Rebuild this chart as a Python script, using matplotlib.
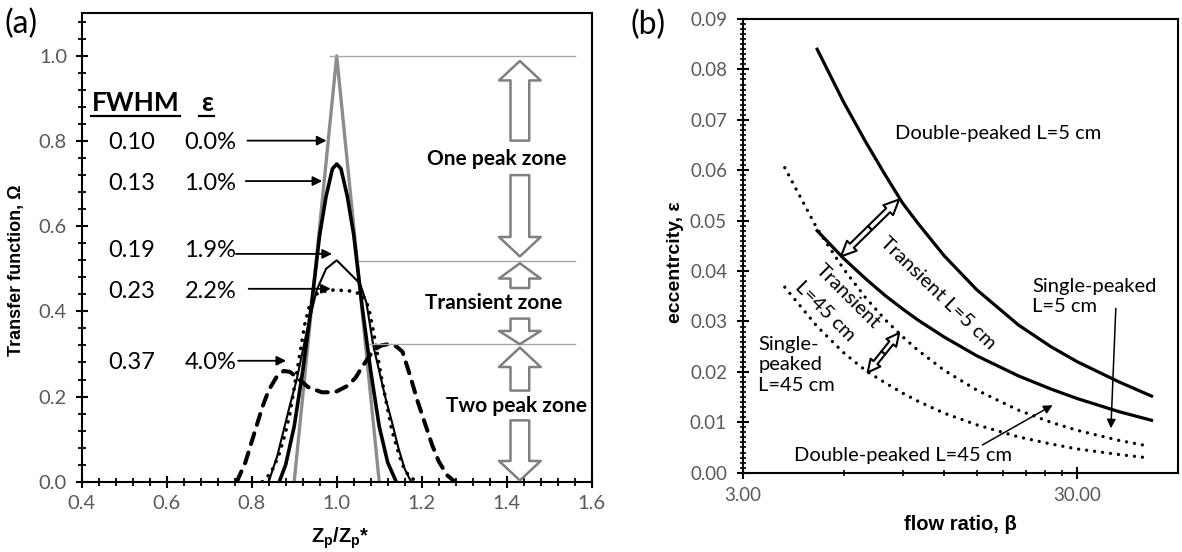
import numpy as np
import matplotlib.pyplot as plt
from matplotlib.patches import FancyArrowPatch
from matplotlib.ticker import MultipleLocator, FixedLocator, FormatStrFormatter, NullFormatter

plt.rcParams['font.family'] = ['Lato', 'DejaVu Sans']
plt.rcParams['mathtext.fontset'] = 'custom'
plt.rcParams['mathtext.bf'] = 'Liberation Sans:bold'
plt.rcParams['mathtext.rm'] = 'Liberation Sans'

# ---------------- panel (a): transfer function vs Zp/Zp* ----------------
tri_x = [0.90, 1.00, 1.10]
tri_y = [0.0, 1.0, 0.0]

e10_x = [0.865, 0.88, 0.90, 0.92, 0.94, 0.96, 0.975, 0.99, 1.00,
         1.01, 1.025, 1.04, 1.06, 1.08, 1.10, 1.12, 1.14]
e10_y = [0.0, 0.04, 0.13, 0.26, 0.41, 0.58, 0.67, 0.735, 0.746,
         0.735, 0.67, 0.58, 0.41, 0.26, 0.13, 0.045, 0.0]

e19_x = [0.84, 0.86, 0.875, 0.89, 0.906, 0.93, 0.953, 0.975, 1.00, 1.02,
         1.04, 1.055, 1.07, 1.086, 1.10, 1.114, 1.13, 1.145, 1.16, 1.175]
e19_y = [0.0, 0.06, 0.12, 0.18, 0.24, 0.355, 0.45, 0.50, 0.52, 0.50,
         0.48, 0.465, 0.42, 0.32, 0.26, 0.20, 0.14, 0.08, 0.03, 0.0]

e22_x = [0.825, 0.845, 0.863, 0.878, 0.89, 0.91, 0.925, 0.935, 0.95, 0.98,
         1.00, 1.03, 1.06, 1.075, 1.086, 1.106, 1.13, 1.153, 1.17, 1.19]
e22_y = [0.0, 0.02, 0.06, 0.11, 0.16, 0.28, 0.37, 0.41, 0.44, 0.45,
         0.45, 0.448, 0.44, 0.41, 0.355, 0.24, 0.12, 0.043, 0.012, 0.0]

e40_x = [0.765, 0.785, 0.808, 0.825, 0.84, 0.858, 0.875, 0.89, 0.906, 0.933,
         0.965, 0.996, 1.027, 1.045, 1.06, 1.086, 1.105, 1.122, 1.14, 1.155,
         1.176, 1.19, 1.208, 1.225, 1.24, 1.26, 1.278]
e40_y = [0.0, 0.045, 0.12, 0.175, 0.215, 0.245, 0.26, 0.258, 0.245, 0.222,
         0.21, 0.21, 0.226, 0.245, 0.27, 0.308, 0.32, 0.323, 0.318, 0.305,
         0.238, 0.19, 0.136, 0.085, 0.048, 0.015, 0.0]

fwhm_labels = ['0.10', '0.13', '0.19', '0.23', '0.37']
eps_labels = ['0.0%', '1.0%', '1.9%', '2.2%', '4.0%']
label_y = [0.797, 0.70, 0.544, 0.447, 0.28]
arrow_from = [(0.790, 0.801), (0.786, 0.706), (0.763, 0.535), (0.793, 0.453), (0.768, 0.284)]
arrow_to = [(0.976, 0.801), (0.966, 0.706), (0.989, 0.535), (0.986, 0.453), (0.881, 0.284)]

zone_lines = [(0.985, 1.0), (1.052, 0.519), (1.075, 0.323)]
zone_texts = [('One peak zone', 1.377, 0.758), ('Transient zone', 1.37, 0.42),
              ('Two peak zone', 1.422, 0.177)]
# block arrows: (start, tip, head length in pt)
zone_arrows = [(0.801, 0.988, 14), (0.72, 0.529, 14), (0.455, 0.513, 11),
               (0.383, 0.323, 9.5), (0.214, 0.315, 14), (0.144, 0.003, 14)]

# ---------------- panel (b): eccentricity vs flow ratio ----------------
dp5_beta = [5, 6, 7, 8, 9, 10, 12, 15, 20, 25, 30, 40, 50]
dp5_eps = [0.084, 0.0735, 0.0655, 0.059, 0.0535, 0.0495, 0.043, 0.0363,
           0.0293, 0.025, 0.022, 0.018, 0.0152]
tr5_beta = [5, 6, 7, 8, 9, 10, 12, 15, 20, 25, 30, 40, 50]
tr5_eps = [0.048, 0.0425, 0.0384, 0.0351, 0.0325, 0.0303, 0.0269, 0.0232,
           0.0192, 0.0166, 0.0147, 0.0121, 0.0104]
tr45_beta = [4, 5, 6, 7, 8, 9, 10, 12, 15, 20, 25, 30, 40, 48]
tr45_eps = [0.0605, 0.0484, 0.0404, 0.0346, 0.0303, 0.027, 0.0243, 0.0203,
            0.0164, 0.0124, 0.01, 0.0084, 0.0064, 0.0054]
dp45_beta = [4, 5, 6, 7, 8, 9, 10, 12, 15, 20, 25, 30, 40, 48]
dp45_eps = [0.0368, 0.029, 0.0238, 0.0202, 0.0178, 0.0158, 0.0142, 0.0118,
            0.0095, 0.0071, 0.0057, 0.0047, 0.0036, 0.003]

fig = plt.figure(figsize=(11.82, 5.52), dpi=100)
W, H = 1182.0, 552.0

ax1 = fig.add_axes([81.7 / W, 1 - 481.7 / H, 510 / W, 468.4 / H])
ax1.plot(tri_x, tri_y, color='#8c8c8c', lw=2.4)
ax1.plot(e10_x, e10_y, color='black', lw=2.6)
ax1.plot(e19_x, e19_y, color='black', lw=1.5)
ax1.plot(e22_x, e22_y, color='black', lw=2.7, ls=(0, (0.01, 2.2)), dash_capstyle='round')
ax1.plot(e40_x, e40_y, color='black', lw=2.9, ls=(0, (2.8, 2.2)), dash_capstyle='round')

for xs, yv in zone_lines:
    ax1.plot([xs, 1.561], [yv, yv], color='#a6a6a6', lw=1.0)

for y0, y1, hl in zone_arrows:
    ax1.add_patch(FancyArrowPatch((1.431, y0), (1.431, y1),
                                  arrowstyle=f'simple,head_length={hl},head_width=30,tail_width=13.5',
                                  mutation_scale=1, fc='white', ec='#7f7f7f', lw=1.8,
                                  shrinkA=0, shrinkB=0, zorder=3))
for txt, tx, ty in zone_texts:
    ax1.text(tx, ty, txt, ha='center', va='center', fontsize=15, fontweight='bold', zorder=4)

ax1.text(0.527, 0.89, 'FWHM', ha='center', va='center', fontsize=19, fontweight='bold')
ax1.text(0.694, 0.89, 'ε', ha='center', va='center', fontsize=19, fontweight='bold')
ax1.plot([0.422, 0.631], [0.858, 0.858], color='black', lw=1.6)
ax1.plot([0.677, 0.712], [0.858, 0.858], color='black', lw=1.6)

for fl, el, ly, a0, a1 in zip(fwhm_labels, eps_labels, label_y, arrow_from, arrow_to):
    ax1.text(0.518, ly, fl, ha='center', va='center', fontsize=17)
    ax1.text(0.703, ly, el, ha='center', va='center', fontsize=17)
    ax1.annotate('', xy=a1, xytext=a0,
                 arrowprops=dict(arrowstyle='-|>', color='black', lw=1.3,
                                 mutation_scale=14, shrinkA=0, shrinkB=0))

ax1.set_xlim(0.4, 1.6)
ax1.set_ylim(0, 1.1)
ax1.xaxis.set_major_locator(MultipleLocator(0.2))
ax1.xaxis.set_minor_locator(MultipleLocator(0.04))
ax1.yaxis.set_major_locator(FixedLocator([0.0, 0.2, 0.4, 0.6, 0.8, 1.0]))
ax1.yaxis.set_minor_locator(MultipleLocator(0.04))
ax1.xaxis.set_major_formatter(FormatStrFormatter('%.1f'))
ax1.yaxis.set_major_formatter(FormatStrFormatter('%.1f'))
ax1.tick_params(which='major', direction='inout', length=9, width=1.5, labelsize=14.5,
                labelcolor='#595959', pad=5)
ax1.tick_params(which='minor', direction='inout', length=6, width=1.3)
ax1.tick_params(axis='y', pad=6)
for sp in ax1.spines.values():
    sp.set_linewidth(1.5)

fig.text(340 / W, 1 - 538 / H, r'$\mathbf{Z_p/Z_p}$*', ha='center', va='center',
         fontsize=14.5, fontweight='bold', family=['Liberation Sans', 'DejaVu Sans'])
fig.text(17 / W, 1 - 270 / H, 'Transfer function, Ω', rotation=90, ha='center', va='center',
         fontsize=13, fontweight='bold', family=['Liberation Sans', 'DejaVu Sans'])
fig.text(5 / W, 1 - 24 / H, '(a)', ha='left', va='center', fontsize=23)

# ---------------- panel (b) ----------------
ax2 = fig.add_axes([743 / W, 1 - 472.7 / H, 435 / W, 453.7 / H])
ax2.plot(dp5_beta, dp5_eps, color='black', lw=2.3)
ax2.plot(tr5_beta, tr5_eps, color='black', lw=2.3)
ax2.plot(tr45_beta, tr45_eps, color='black', lw=2.4, ls=(0, (0.01, 2.4)), dash_capstyle='round')
ax2.plot(dp45_beta, dp45_eps, color='black', lw=2.4, ls=(0, (0.01, 2.4)), dash_capstyle='round')
ax2.set_xscale('log')
ax2.set_xlim(3, 60)
ax2.set_ylim(0, 0.09)


def double_block(ax, p0, p1, hl, hw, tw):
    mid = (np.sqrt(p0[0] * p1[0]), (p0[1] + p1[1]) / 2)
    for end in (p0, p1):
        ax.add_patch(FancyArrowPatch(mid, end,
                                     arrowstyle=f'simple,head_length={hl},head_width={hw},tail_width={tw}',
                                     mutation_scale=1, fc='white', ec='black', lw=1.5,
                                     shrinkA=0, shrinkB=0, zorder=4))


double_block(ax2, (5.89, 0.0429), (8.79, 0.0542), 11, 10, 4)
double_block(ax2, (7.08, 0.0199), (8.79, 0.0277), 9, 9, 3.5)

fs_b = 14.5
ax2.text(np.sqrt(8.0 * 38.0), 0.0673, 'Double-peaked L=5 cm', ha='center', va='center', fontsize=fs_b)
ax2.text(11.5, 0.0356, 'Transient L=5 cm', ha='center', va='center', fontsize=fs_b, rotation=-44)
ax2.text(6.17, 0.035, 'Transient', ha='center', va='center', fontsize=fs_b, rotation=-45)
ax2.text(5.28, 0.032, 'L=45 cm', ha='center', va='center', fontsize=fs_b, rotation=-45)
ax2.text(3.33, 0.0214, 'Single-\npeaked\nL=45 cm', ha='left', va='center', fontsize=fs_b,
         linespacing=1.25)
ax2.text(22.0, 0.035, 'Single-peaked\nL=5 cm', ha='left', va='center', fontsize=fs_b,
         linespacing=1.25)
ax2.text(9.06, 0.0035, 'Double-peaked L=45 cm', ha='center', va='center', fontsize=fs_b)
ax2.annotate('', xy=(25.3, 0.0134), xytext=(15.6, 0.0055),
             arrowprops=dict(arrowstyle='-|>', color='black', lw=1.1, mutation_scale=13,
                             shrinkA=0, shrinkB=0))
ax2.annotate('', xy=(37.8, 0.0088), xytext=(39.1, 0.0326),
             arrowprops=dict(arrowstyle='-|>', color='black', lw=1.1, mutation_scale=13,
                             shrinkA=0, shrinkB=0))

ax2.xaxis.set_major_locator(FixedLocator([3, 30]))
ax2.xaxis.set_minor_locator(FixedLocator([6, 9, 12, 15, 18, 21, 24, 27]))
ax2.xaxis.set_major_formatter(FormatStrFormatter('%.2f'))
ax2.xaxis.set_minor_formatter(NullFormatter())
ax2.yaxis.set_major_locator(MultipleLocator(0.01))
ax2.yaxis.set_minor_locator(MultipleLocator(0.001))
ax2.yaxis.set_major_formatter(FormatStrFormatter('%.2f'))
ax2.tick_params(which='major', direction='inout', length=9, width=1.5, labelsize=13.5,
                labelcolor='#595959', pad=6)
ax2.tick_params(which='minor', direction='inout', length=5, width=1.2)
ax2.tick_params(axis='y', pad=7)
for sp in ax2.spines.values():
    sp.set_linewidth(1.5)

fig.text(960 / W, 1 - 524 / H, 'flow ratio, β', ha='center', va='center',
         fontsize=14.5, fontweight='bold', family=['Liberation Sans', 'DejaVu Sans'])
fig.text(676 / W, 1 - 262 / H, 'eccentrcity, ε', rotation=90, ha='center', va='center',
         fontsize=14, fontweight='bold', family=['Liberation Sans', 'DejaVu Sans'])
fig.text(631 / W, 1 - 25 / H, '(b)', ha='left', va='center', fontsize=23)

fig.savefig('out.png', dpi=100)
